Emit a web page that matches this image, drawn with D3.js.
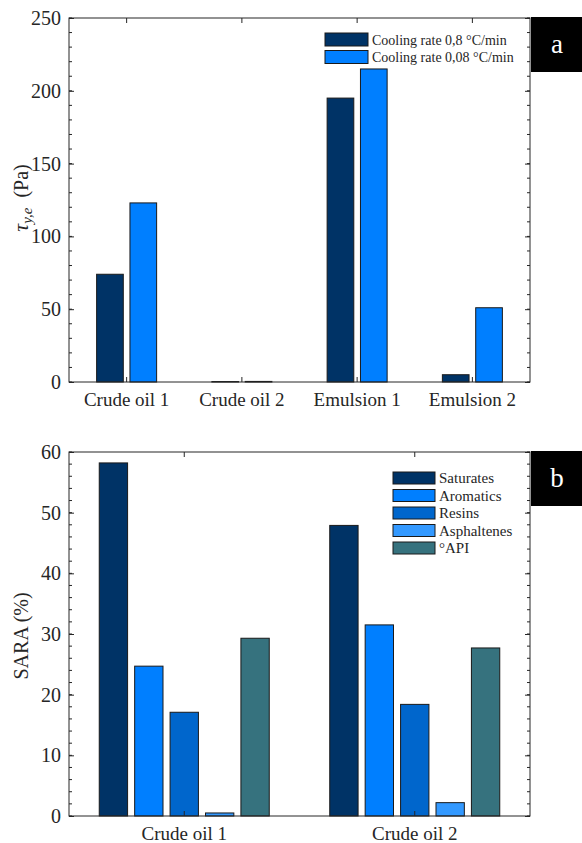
<!DOCTYPE html>
<html>
<head>
<meta charset="utf-8">
<script src="https://cdn.jsdelivr.net/npm/d3@7"></script>
<style>
  body { margin: 0; background: #fff; }
</style>
</head>
<body>
<div id="chart"></div>
<script>
// panel a
const samplesA = ["Crude oil 1", "Crude oil 2", "Emulsion 1", "Emulsion 2"]
const ratesA = ["Cooling rate 0,8 °C/min", "Cooling rate 0,08 °C/min"]
const fastRate = [74, 0.3, 195, 5]
const slowRate = [123, 0.4, 215, 51]
const ticksA = [0, 50, 100, 150, 200, 250]

// panel b
const samplesB = ["Crude oil 1", "Crude oil 2"]
const fractions = ["Saturates", "Aromatics", "Resins", "Asphaltenes", "°API"]
const saturates = [58.2, 47.9]
const aromatics = [24.7, 31.5]
const resins = [17.1, 18.4]
const asphaltenes = [0.5, 2.2]
const api = [29.3, 27.7]
const ticksB = [0, 10, 20, 30, 40, 50, 60]

const colorsA = ['#003366', '#007fff']
const colorsB = ['#003366', '#007fff', '#0066cc', '#3399ff', '#36727e']

const W = 582, H = 843
const FONT = "'Liberation Serif', 'Times New Roman', serif"
const INK = "#262626"

const svg = d3.select("#chart").append("svg")
  .attr("width", W)
  .attr("height", H)
  .style("font-family", FONT)

function panel(opt) {
  const g = svg.append("g")
  const x = d3.scaleBand().domain(opt.cats).range([opt.left, opt.right]).padding(0)
  const y = d3.scaleLinear().domain([0, opt.ymax]).range([opt.bottom, opt.top])
  const inner = d3.scaleBand().domain(opt.series.map((s, i) => i))
    .range([0, opt.groupW]).paddingInner(opt.innerPad)

  // bars
  opt.series.forEach((vals, si) => {
    g.selectAll(null)
      .data(vals)
      .enter()
      .append("rect")
      .attr("x", (d, i) => x(opt.cats[i]) + x.bandwidth() / 2 - opt.groupW / 2 + inner(si))
      .attr("width", inner.bandwidth())
      .attr("y", d => y(d))
      .attr("height", d => y(0) - y(d))
      .attr("fill", opt.colors[si])
      .attr("stroke", "#1a1a1a")
      .attr("stroke-width", 1)
  })

  // minor ticks
  const minor = d3.range(0, opt.ymax + 0.001, opt.minorStep)
  g.selectAll(null).data(minor).enter().append("line")
    .attr("x1", opt.left).attr("x2", opt.left + 3)
    .attr("y1", d => y(d)).attr("y2", d => y(d))
    .attr("stroke", INK)
  g.selectAll(null).data(minor).enter().append("line")
    .attr("x1", opt.right).attr("x2", opt.right - 3)
    .attr("y1", d => y(d)).attr("y2", d => y(d))
    .attr("stroke", INK)

  // y axis left, right ticks
  const yAxis = g.append("g")
    .attr("transform", "translate(" + opt.left + ",0)")
    .call(d3.axisLeft(y).tickValues(opt.ticks).tickSize(-5).tickPadding(8).tickSizeOuter(0))
  yAxis.attr("font-family", null)
  yAxis.select(".domain").remove()
  yAxis.selectAll("line").attr("stroke", INK)
  yAxis.selectAll("text").style("font-size", opt.yFont + "px").style("font-family", FONT).attr("fill", INK)

  g.append("g")
    .attr("transform", "translate(" + opt.right + ",0)")
    .call(d3.axisRight(y).tickValues(opt.ticks).tickSize(-5).tickFormat(""))
    .call(a => a.select(".domain").remove())
    .selectAll("line").attr("stroke", INK)

  // x axis
  const xAxis = g.append("g")
    .attr("transform", "translate(0," + opt.bottom + ")")
    .call(d3.axisBottom(x).tickSize(-5).tickPadding(11).tickSizeOuter(0))
  xAxis.attr("font-family", null)
  xAxis.select(".domain").remove()
  xAxis.selectAll("line").attr("stroke", INK)
  xAxis.selectAll("text").style("font-size", opt.xFont + "px").style("font-family", FONT).attr("fill", INK)

  g.append("g")
    .attr("transform", "translate(0," + opt.top + ")")
    .call(d3.axisTop(x).tickSize(-5).tickFormat(""))
    .call(a => a.select(".domain").remove())
    .selectAll("line").attr("stroke", INK)

  // box
  g.append("rect")
    .attr("x", opt.left).attr("y", opt.top)
    .attr("width", opt.right - opt.left).attr("height", opt.bottom - opt.top)
    .attr("fill", "none").attr("stroke", INK).attr("stroke-width", 1)

  // letter tag
  g.append("rect")
    .attr("x", opt.right + 1).attr("y", opt.top - 1)
    .attr("width", W - opt.right - 1).attr("height", 55)
    .attr("fill", "#000")
  g.append("text")
    .attr("x", (opt.right + W) / 2 + 1).attr("y", opt.top + 35)
    .attr("text-anchor", "middle")
    .style("font-size", "27px")
    .attr("fill", "#fff")
    .text(opt.tag)

  // legend
  const leg = g.append("g").attr("transform", "translate(" + opt.legX + "," + opt.legY + ")")
  opt.names.forEach((name, i) => {
    leg.append("rect")
      .attr("x", 0).attr("y", i * opt.legStep)
      .attr("width", opt.legW).attr("height", opt.legH)
      .attr("fill", opt.colors[i]).attr("stroke", "#1a1a1a")
    leg.append("text")
      .attr("x", opt.legW + 4).attr("y", i * opt.legStep + opt.legH / 2 + 5)
      .style("font-size", opt.legFont + "px")
      .attr("fill", INK)
      .text(name)
  })

  return { g, y }
}

const a = panel({
  cats: samplesA, series: [fastRate, slowRate], colors: colorsA, names: ratesA,
  left: 69, right: 530, top: 18, bottom: 382, ymax: 250, ticks: ticksA, minorStep: 10,
  groupW: 60, innerPad: 0.2, xFont: 19, yFont: 20, tag: "a", legFont: 14,
  legX: 325, legY: 33, legW: 43, legH: 13, legStep: 17.5
})

const b = panel({
  cats: samplesB, series: [saturates, aromatics, resins, asphaltenes, api], colors: colorsB, names: fractions,
  left: 69, right: 530, top: 452, bottom: 816, ymax: 60, ticks: ticksB, minorStep: 2,
  groupW: 170, innerPad: 0.2, xFont: 19, yFont: 20, tag: "b", legFont: 15,
  legX: 393, legY: 472, legW: 42, legH: 12, legStep: 17.5
})

// y titles
const tA = svg.append("text")
  .attr("transform", "translate(28,198) rotate(-90)")
  .attr("text-anchor", "middle")
  .attr("fill", INK)
  .style("font-size", "20px")
tA.append("tspan").attr("font-style", "italic").style("font-size", "22px").text("τ")
tA.append("tspan").attr("font-style", "italic").style("font-size", "15px").attr("dy", 4).text("y,e")
tA.append("tspan").attr("dy", -4).text("\u2002(Pa)")

svg.append("text")
  .attr("transform", "translate(28,636) rotate(-90)")
  .attr("text-anchor", "middle")
  .attr("fill", INK)
  .style("font-size", "20px")
  .text("SARA (%)")
</script>
</body>
</html>
